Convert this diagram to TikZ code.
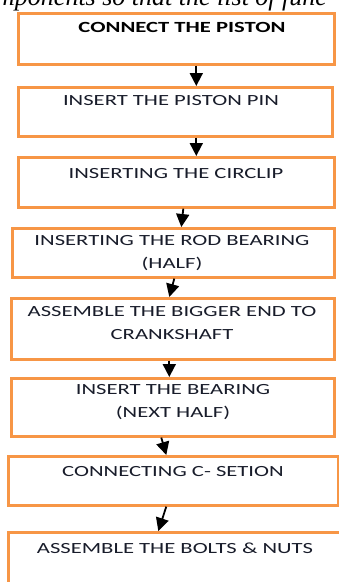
\documentclass[tikz,border=0pt]{standalone}
\usepackage{fontspec}
\usepackage{tikz}
\usetikzlibrary{arrows.meta,positioning}
\newfontfamily\stepfont[FakeStretch=1.46]{Carlito}
\newfontfamily\pagefont{Liberation Serif}
\definecolor{ink}{RGB}{24,28,42}
\definecolor{boxorange}{RGB}{247,150,70}
\tikzset{
  flow/.style={-{Triangle[length=13pt,width=13pt]},line width=1.8pt,draw=black},
  stepbox/.style={draw=boxorange,line width=2.6pt,fill=white,anchor=north west,inner sep=0pt},
  steptext/.style={text=ink,align=center,inner sep=0pt,anchor=base,font=\stepfont\fontsize{15.5}{22.5}\selectfont}
}

\begin{document}
\begin{tikzpicture}[x=1pt,y=-1pt]
  \useasboundingbox (0,0) rectangle (339,582);
  \clip (0,0) rectangle (339,582);
  % cut-off line of the page above the chart
  \node[anchor=base west,inner sep=0pt,font=\pagefont\itshape\fontsize{26}{30}\selectfont] (pageline) at (-4,5) {mponents so that the list of func};
  % boxes
  \node[stepbox,minimum width=316pt,minimum height=51pt] (b1) at (17,12) {};
  \node[stepbox,minimum width=314pt,minimum height=49pt] (b2) at (17,86) {};
  \node[stepbox,minimum width=316pt,minimum height=50pt] (b3) at (17,156) {};
  \node[stepbox,minimum width=322pt,minimum height=49pt] (b4) at (11,227) {};
  \node[stepbox,minimum width=323pt,minimum height=61pt] (b5) at (10,297) {};
  \node[stepbox,minimum width=323pt,minimum height=58pt] (b6) at (10,377) {};
  \node[stepbox,minimum width=330pt,minimum height=49pt] (b7) at (7,455) {};
  \node[stepbox,minimum width=338pt,minimum height=70pt] (b8) at (7,531) {};
  % texts (two-line ones sit on their last baseline)
  \node[steptext,font=\stepfont\bfseries\fontsize{15.5}{22.5}\selectfont,text=black] (t1) at (182,32) {CONNECT THE PISTON};
  \node[steptext] (t2) at (171,105) {INSERT THE PISTON PIN};
  \node[steptext] (t3) at (176,178) {INSERTING THE CIRCLIP};
  \node[steptext] (t4) at (172,268) {INSERTING THE ROD BEARING\\(HALF)};
  \node[steptext] (t5) at (172,339) {ASSEMBLE THE BIGGER END TO\\CRANKSHAFT};
  \node[steptext] (t6) at (173,417) {INSERT THE BEARING\\(NEXT HALF)};
  \node[steptext] (t7) at (173,476) {CONNECTING C- SETION};
  \node[steptext] (t8) at (175,553) {ASSEMBLE THE BOLTS \& NUTS};
  % arrows
  \draw[flow] ([xshift=20pt]b1.south) -- ([xshift=21pt]b2.north);
  \draw[flow] ([xshift=21pt]b2.south) -- ([xshift=20pt]b3.north);
  \draw[flow] ([xshift=7pt]b3.south) -- ([xshift=8pt]b4.north);
  \draw[flow] ([xshift=1pt]b4.south) -- ([xshift=-3.5pt]b5.north);
  \draw[flow] ([xshift=-3.5pt]b5.south) -- ([xshift=-3.5pt]b6.north);
  \draw[flow] ([xshift=-11.5pt]b6.south) -- ([xshift=-7pt]b7.north);
  \draw[flow] ([xshift=-7pt]b7.south) -- ([xshift=-19pt]b8.north);
\end{tikzpicture}
\end{document}
